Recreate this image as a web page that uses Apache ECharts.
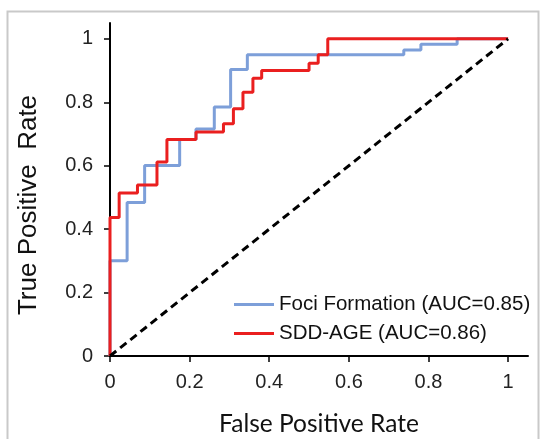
<!DOCTYPE html>
<html>
<head>
<meta charset="utf-8">
<script src="https://cdn.jsdelivr.net/npm/echarts@6/dist/echarts.min.js"></script>
<style>
  html, body { margin: 0; padding: 0; background: #fff; }
  #main { width: 541px; height: 439px; }
</style>
</head>
<body>
<div id="main"></div>
<script>
// ROC points (false positive rate, true positive rate)
const fociFpr = [0, 0, 0.043, 0.087, 0.175, 0.216, 0.262, 0.303, 0.345, 0.738, 0.781, 0.872, 1];
const fociTpr = [0, 0.30, 0.484, 0.601, 0.683, 0.716, 0.785, 0.903, 0.95, 0.965, 0.983, 1, 1];
const sddFpr = [0, 0, 0.023, 0.069, 0.118, 0.143, 0.216, 0.285, 0.31, 0.334, 0.359, 0.381, 0.50, 0.523, 0.547, 1];
const sddTpr = [0, 0.437, 0.514, 0.539, 0.612, 0.683, 0.706, 0.732, 0.780, 0.832, 0.876, 0.900, 0.923, 0.950, 1, 1];
const chanceLine = [[0, 0], [1, 1]];
const tickValues = [0, 0.2, 0.4, 0.6, 0.8, 1];
const seriesNames = ['Foci Formation (AUC=0.85)', 'SDD-AGE (AUC=0.86)'];

const zip = (xs, ys) => xs.map((x, i) => [x, ys[i]]);

const chart = echarts.init(document.getElementById('main'));

const axisCommon = {
    type: 'value',
    min: 0,
    max: 1.05,
    interval: 0.2,
    splitLine: { show: false },
    axisLine: { show: true, lineStyle: { color: '#000', width: 2 } },
    axisTick: { show: true, length: 6, customValues: tickValues, lineStyle: { color: '#000', width: 1.5 } },
    axisLabel: {
        customValues: tickValues,
        color: '#222',
        fontSize: 20,
        fontFamily: 'Liberation Sans',
        margin: 16,
        formatter: (v) => String(+v.toFixed(1))
    }
};

chart.setOption({
    animation: false,
    backgroundColor: '#fff',
    grid: { left: 110, right: 13, top: 23, bottom: 83 },
    graphic: [
        {
            type: 'rect',
            shape: { x: 7.5, y: 11.5, width: 531, height: 440 },
            style: { fill: 'none', stroke: '#c9c9c9', lineWidth: 2 },
            silent: true
        },
        {
            type: 'text',
            x: 29,
            y: 205,
            rotation: Math.PI / 2,
            style: {
                text: 'True Positive  Rate',
                fontSize: 26,
                fontFamily: 'Liberation Sans',
                fill: '#111',
                align: 'center',
                verticalAlign: 'middle'
            }
        },
        {
            type: 'text',
            x: 319,
            y: 424,
            style: {
                text: 'False Positive Rate',
                fontSize: 24.5,
                fontFamily: 'Lato',
                fill: '#111',
                align: 'center',
                verticalAlign: 'middle'
            }
        }
    ],
    legend: {
        data: seriesNames,
        orient: 'vertical',
        left: 229,
        top: 289,
        icon: 'rect',
        itemWidth: 40,
        itemHeight: 3,
        itemGap: 8,
        textStyle: { fontSize: 20.5, fontFamily: 'Liberation Sans', color: '#111' }
    },
    xAxis: Object.assign({}, axisCommon),
    yAxis: Object.assign({}, axisCommon, {
        axisLabel: Object.assign({}, axisCommon.axisLabel, { margin: 17 })
    }),
    series: [
        {
            name: seriesNames[0],
            type: 'line',
            step: 'end',
            data: zip(fociFpr, fociTpr),
            showSymbol: false,
            color: '#7d9fd9',
            lineStyle: { width: 3, color: '#7d9fd9' },
            z: 2
        },
        {
            name: seriesNames[1],
            type: 'line',
            step: 'end',
            data: zip(sddFpr, sddTpr),
            showSymbol: false,
            color: '#ea1f1f',
            lineStyle: { width: 3, color: '#ea1f1f' },
            z: 3
        },
        {
            name: 'chance',
            type: 'line',
            data: chanceLine,
            showSymbol: false,
            silent: true,
            lineStyle: { width: 3, color: '#000', type: [8, 5] },
            z: 4
        }
    ]
});
</script>
</body>
</html>
